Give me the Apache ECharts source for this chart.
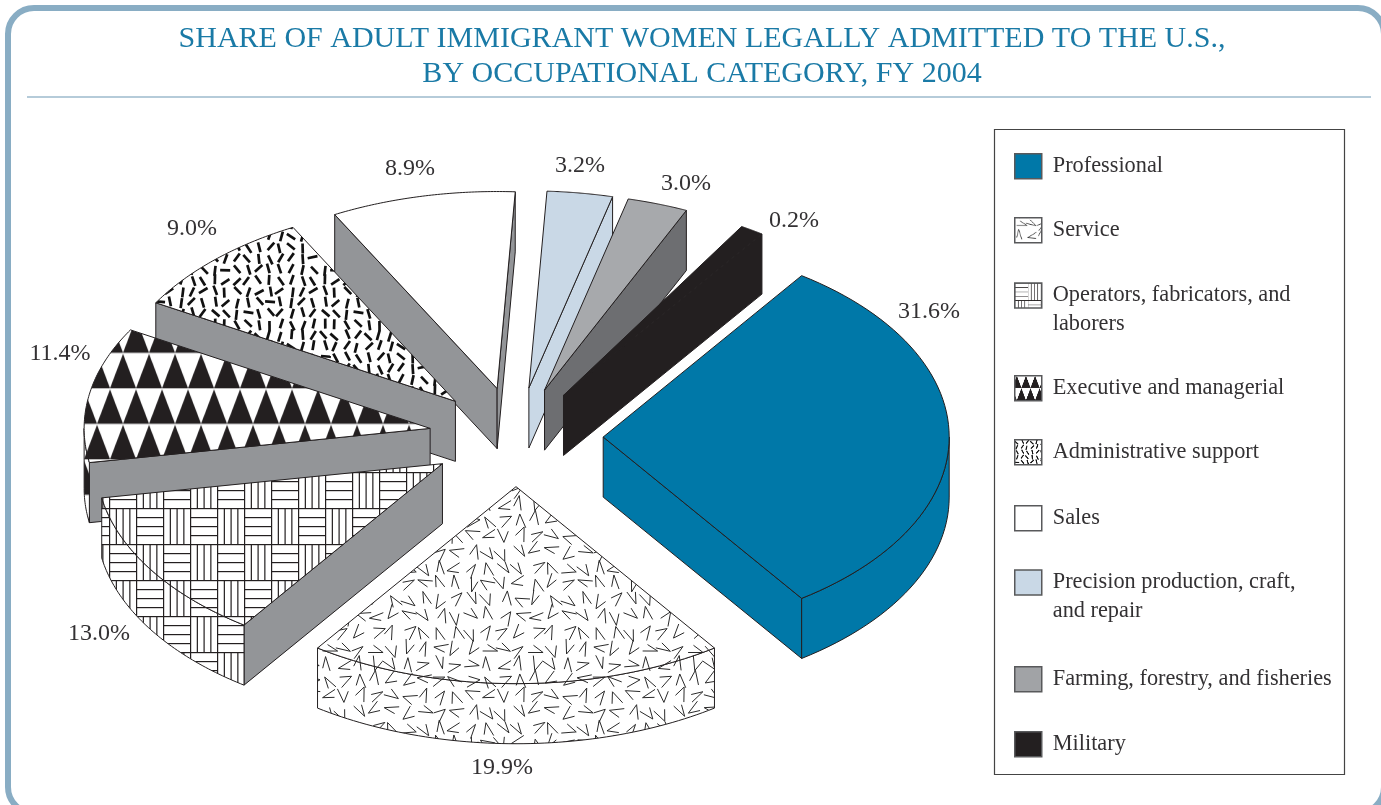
<!DOCTYPE html>
<html>
<head>
<meta charset="utf-8">
<title>Share of adult immigrant women by occupational category</title>
<style>
  html, body { margin: 0; padding: 0; background: #fff; }
  #main { width: 1381px; height: 805px; }
</style>
<script src="https://cdn.jsdelivr.net/npm/echarts@6/dist/echarts.min.js"></script>
</head>
<body>
<div id="main"></div>
<script>
// figures printed next to the slices
var categories = ['Professional', 'Service', 'Operators, fabricators, and laborers', 'Executive and managerial',
  'Administrative support', 'Sales', 'Precision production, craft, and repair',
  'Farming, forestry, and fisheries', 'Military'];
var percents = [31.6, 19.9, 13.0, 11.4, 9.0, 8.9, 3.2, 3.0, 0.2];
// the slices are not drawn quite to scale, so their angles are read off the picture (degrees, clockwise)
var sliceStart = [55, -55, -125, -170, -210, -242, -273, -284, -301];
var sliceSpan = [110, 70, 45, 40, 32, 31, 11, 10.2, 4];

var FONT = '"Liberation Serif", serif';
var TEXT = '#333133';
var LINE = '#231f20';
var GREY = '#939598';

// one unit on the axes is one pie radius, the grid squashes the circle to an ellipse
var RX = 346, RY = 197, CX = 516, CY = 437, W = 1381, H = 805;
var EXPLODE = 0.252, DEPTH = 0.305;

function wrap(w, h, x, y, fn) {
  [-w, 0, w].forEach(function (dx) {
    [-h, 0, h].forEach(function (dy) { fn(x + dx, y + dy); });
  });
}
// fixed scatter for the hatch tiles, same result on every load
function mix(a, b, c) {
  var h = Math.imul(a * 31 + b * 131 + c * 541 + 7, 2654435761);
  h ^= h >>> 15;
  h = Math.imul(h, 2246822519);
  h ^= h >>> 13;
  return (h >>> 0) / 4294967296;
}

function tile(w, h, draw) {
  var c = document.createElement('canvas');
  c.width = w;
  c.height = h;
  var ctx = c.getContext('2d');
  ctx.fillStyle = '#fff';
  ctx.fillRect(0, 0, w, h);
  draw(ctx, w, h);
  return c;
}

var serviceTile = tile(160, 160, function (ctx, w, h) {
  ctx.strokeStyle = '#2a2a2a';
  ctx.lineWidth = 1;
  for (var i = 0; i < 10; i++) {
    for (var j = 0; j < 10; j++) {
      // mostly upright Vs, turned every which way only now and then
      var a = Math.PI / 2 + (mix(i, j, 4) < 0.5 ? 0 : Math.PI) + (mix(i, j, 1) - 0.5) * 3;
      var open = 0.26 + mix(i, j, 5) * 0.16;
      var px = i * 16 + 8 + (mix(i, j, 2) - 0.5) * 6 - Math.cos(a) * 7;
      var py = j * 16 + 8 + (mix(i, j, 3) - 0.5) * 6 - Math.sin(a) * 7;
      wrap(w, h, px, py, function (x, y) {
        ctx.beginPath();
        ctx.moveTo(x + Math.cos(a - open) * 15, y + Math.sin(a - open) * 15);
        ctx.lineTo(x, y);
        ctx.lineTo(x + Math.cos(a + open) * 12, y + Math.sin(a + open) * 12);
        ctx.stroke();
      });
    }
  }
});

var weaveTile = tile(54, 72, function (ctx) {
  ctx.fillStyle = '#231f20';
  for (var row = 0; row < 2; row++) {
    for (var col = 0; col < 2; col++) {
      var x0 = col * 27, y0 = row * 36;
      if ((row + col) % 2 === 0) {
        for (var k = 0; k < 4; k++) ctx.fillRect(x0, y0 + k * 9, 27, 1.2);
        ctx.fillRect(x0, y0, 1.2, 36);
      } else {
        for (var m = 0; m < 4; m++) ctx.fillRect(x0 + m * 6.75, y0, 1.2, 36);
        ctx.fillRect(x0, y0, 27, 1.2);
      }
    }
  }
});

var triangleTile = tile(26, 71, function (ctx) {
  ctx.fillStyle = '#231f20';
  [[0, 6], [35.5, 19]].forEach(function (r) {
    [-26, 0, 26].forEach(function (dx) {
      ctx.beginPath();
      ctx.moveTo(r[1] + dx, r[0]);
      ctx.lineTo(r[1] + dx + 13, r[0] + 34.5);
      ctx.lineTo(r[1] + dx - 13, r[0] + 34.5);
      ctx.closePath();
      ctx.fill();
    });
  });
});

var dashTile = tile(110, 110, function (ctx, w, h) {
  ctx.strokeStyle = '#111';
  ctx.lineWidth = 2.7;
  for (var i = 0; i < 10; i++) {
    for (var j = 0; j < 10; j++) {
      var wide = mix(i, j, 6) < 0.25;
      var a = Math.PI / 2 + (mix(i, j, 7) - 0.5) * (wide ? 3.1 : 2);
      var px = i * 11 + 5.5 + (mix(i, j, 8) - 0.5) * 3;
      var py = j * 11 + 5.5 + (mix(i, j, 9) - 0.5) * 3;
      wrap(w, h, px, py, function (x, y) {
        ctx.beginPath();
        ctx.moveTo(x - Math.cos(a) * 5, y - Math.sin(a) * 5);
        ctx.lineTo(x + Math.cos(a) * 5, y + Math.sin(a) * 5);
        ctx.stroke();
      });
    }
  }
});

function pattern(image, scale, x, y) {
  return { image: image, repeat: 'repeat', scaleX: scale, scaleY: scale, x: x || 0, y: y || 0 };
}

var tops = ['#0078a8', pattern(serviceTile, 1), pattern(weaveTile, 1, 28, 4), pattern(triangleTile, 1, 0, 34.3),
  pattern(dashTile, 1), '#ffffff', '#c9d8e6', '#a7a9ac', LINE];
var walls = ['#0078a8', tops[1], GREY, GREY, GREY, GREY, '#c9d8e6', '#6d6e71', LINE];
var rims = ['#0078a8', tops[1], tops[2], tops[3], GREY, GREY, '#c9d8e6', '#6d6e71', LINE];
var swatches = ['#0078a8', pattern(serviceTile, 0.7), pattern(weaveTile, 0.48), pattern(triangleTile, 0.35),
  pattern(dashTile, 0.45), '#ffffff', '#c9d8e6', '#a1a3a6', LINE];
// back to front
var drawOrder = [5, 6, 7, 8, 4, 3, 2, 1, 0];
var labelSpots = [[929, 312], [502, 768], [99, 634], [60, 354], [192, 229], [410, 169], [580, 166], [686, 184], [794, 221]];
var swatchTops = [153, 217, 283, 375, 439, 505, 570, 666, 731];
var legendLines = { 2: ['Operators, fabricators, and', 'laborers'], 6: ['Precision production, craft,', 'and repair'] };

function renderSlice(params, api) {
  var i = params.seriesIndex;
  var start = api.value(0), span = api.value(1);
  var rad = Math.PI / 180;
  var mid = (start - span / 2) * rad;
  var ox = EXPLODE * Math.cos(mid), oy = EXPLODE * Math.sin(mid);

  function rimAt(deg, drop) {
    return api.coord([ox + Math.cos(deg * rad), oy + Math.sin(deg * rad) - (drop || 0)]);
  }
  var apex = api.coord([ox, oy]);
  var apexLow = api.coord([ox, oy - DEPTH]);
  var end = start - span;
  var children = [];

  function poly(points, fill) {
    children.push({ type: 'polygon', shape: { points: points }, style: { fill: fill, stroke: LINE, lineWidth: 1 } });
  }
  function radialWall(deg) {
    poly([apex, rimAt(deg), rimAt(deg, DEPTH), apexLow], walls[i]);
  }
  // a cut face shows only when its outward side points at the viewer
  if (Math.sin((start + 90) * rad) < 0) radialWall(start);
  if (Math.sin((end - 90) * rad) < 0) radialWall(end);

  var upper = [], lower = [], outline = [apex];
  for (var s = 0; s <= 60; s++) {
    var t = start - span * s / 60;
    outline.push(rimAt(t));
    if (Math.sin(t * rad) <= 0) {
      upper.push(rimAt(t));
      lower.unshift(rimAt(t, DEPTH));
    }
  }
  if (upper.length > 1) poly(upper.concat(lower), rims[i]);
  poly(outline, tops[i]);

  children.push({
    type: 'text',
    x: labelSpots[i][0],
    y: labelSpots[i][1],
    style: {
      text: api.value(2).toFixed(1) + '%',
      font: '24px ' + FONT,
      fill: TEXT,
      textAlign: 'center',
      textVerticalAlign: 'middle'
    }
  });
  return { type: 'group', children: children };
}

var series = categories.map(function (name, i) {
  return {
    type: 'custom',
    name: name,
    z: 2 + drawOrder.indexOf(i),
    renderItem: renderSlice,
    data: [[sliceStart[i], sliceSpan[i], percents[i]]],
    silent: true
  };
});

var legends = categories.map(function (name, i) {
  var two = legendLines[i];
  return {
    data: [{ name: name, icon: 'rect', itemStyle: { color: swatches[i], borderColor: '#58595b', borderWidth: 1.5 } }],
    left: 1014,
    top: two ? swatchTops[i] - 31 : swatchTops[i],
    padding: 0,
    itemWidth: 27,
    itemHeight: 25,
    selectedMode: false,
    formatter: function () { return two ? '\n' + two.join('\n') : name; },
    textStyle: {
      fontFamily: FONT,
      fontSize: 22.3,
      color: TEXT,
      lineHeight: two ? 29 : 25,
      padding: [0, 0, 0, 6]
    }
  };
});

var myChart = echarts.init(document.getElementById('main'));
var option = {
  animation: false,
  backgroundColor: '#fff',
  title: {
    text: 'SHARE OF ADULT IMMIGRANT WOMEN LEGALLY ADMITTED TO THE U.S.,\nBY OCCUPATIONAL CATEGORY, FY 2004',
    left: 697,
    top: 17,
    textAlign: 'center',
    textStyle: { fontFamily: FONT, fontWeight: 'normal', fontSize: 30, lineHeight: 35, color: '#1a7aa6' }
  },
  grid: { left: 0, right: 0, top: 0, bottom: 0 },
  xAxis: { type: 'value', show: false, min: -CX / RX, max: (W - CX) / RX },
  yAxis: { type: 'value', show: false, min: (CY - H) / RY, max: CY / RY },
  legend: legends,
  series: series,
  graphic: [
    { type: 'rect', silent: true, shape: { x: 8, y: 8, width: 1376, height: 805, r: 26 },
      style: { fill: 'transparent', stroke: '#89adc4', lineWidth: 6 } },
    { type: 'line', silent: true, shape: { x1: 27, y1: 97, x2: 1371, y2: 97 },
      style: { stroke: '#b5cbd9', lineWidth: 2 } },
    { type: 'rect', silent: true, shape: { x: 994.5, y: 129.5, width: 350, height: 645 },
      style: { fill: 'transparent', stroke: '#444', lineWidth: 1.2 } }
  ]
};

myChart.setOption(option);
</script>
</body>
</html>
